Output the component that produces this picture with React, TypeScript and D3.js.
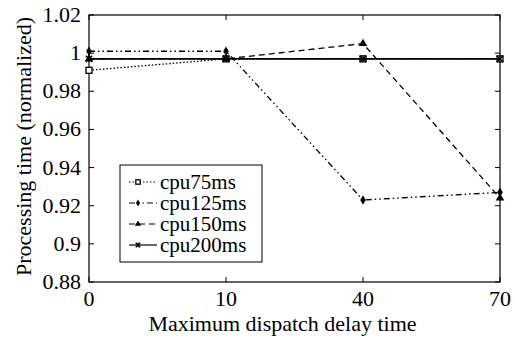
import * as d3 from 'd3';

// x categories (equally spaced on the axis)
const delays = ['0', '10', '40', '70'];
const yTicks = [0.88, 0.9, 0.92, 0.94, 0.96, 0.98, 1, 1.02];

const cpu75 = [0.991, 0.997, 0.997, 0.997];
const cpu125 = [1.001, 1.001, 0.923, 0.927];
const cpu150 = [0.997, 0.997, 1.005, 0.924];
const cpu200 = [0.997, 0.997, 0.997, 0.997];

const seriesNames = ['cpu75ms', 'cpu125ms', 'cpu150ms', 'cpu200ms'];
const allSeries = [cpu75, cpu125, cpu150, cpu200];

const width = 515;
const height = 341;
const margin = { top: 15, right: 15, bottom: 59, left: 89 };
const chartWidth = width - margin.left - margin.right;
const chartHeight = height - margin.top - margin.bottom;
const FONT = 'Liberation Serif';

const dashes = ['1.5,2', '6,3,1.5,3,1.5,3', '6,4', undefined];

function Label(props: { x: number; y: number; size?: number; anchor?: 'start' | 'middle' | 'end'; transform?: string; children: string }) {
  const size = props.size || 22;
  return (
    <text
      x={props.x}
      y={props.y}
      textAnchor={props.anchor || 'start'}
      transform={props.transform}
      fontFamily={FONT}
      fontSize={`${size}px`}
      style={{ fontFamily: `"${FONT}"`, fontSize: `${size}px` }}
    >
      {props.children}
    </text>
  );
}

function Marker({ i, x, y, s }: { i: number; x: number; y: number; s: number }) {
  if (i === 0) {
    return <rect x={x - s} y={y - s} width={2 * s} height={2 * s} fill="#fff" stroke="#000" strokeWidth={1.3} />;
  }
  if (i === 1) {
    return <path d={d3.symbol(d3.symbolDiamond, s * s * 3)() || ''} transform={`translate(${x},${y})`} fill="#000" />;
  }
  if (i === 2) {
    return <path d={d3.symbol(d3.symbolTriangle, s * s * 3.5)() || ''} transform={`translate(${x},${y})`} fill="#000" />;
  }
  return (
    <g>
      <path d={d3.symbol(d3.symbolTimes, s * s * 3)() || ''} transform={`translate(${x},${y})`} fill="none" stroke="#000" strokeWidth={1.5} />
      <line x1={x} x2={x} y1={y - s} y2={y + s} stroke="#000" strokeWidth={1.3} />
    </g>
  );
}

export default function App() {
  const xScale = d3.scalePoint<string>().domain(delays).range([margin.left, margin.left + chartWidth]);
  const yScale = d3.scaleLinear().domain([0.88, 1.02]).range([margin.top + chartHeight, margin.top]);
  const line = d3.line<number>()
    .x((_, j) => xScale(delays[j]) || 0)
    .y(v => yScale(v));
  const x0 = margin.left;
  const x1 = margin.left + chartWidth;
  const yb = margin.top + chartHeight;

  return (
    <svg width={width} height={height} fontFamily={FONT} style={{ position: 'absolute', left: 0, top: 0 }}>
      <rect x={x0} y={margin.top} width={chartWidth} height={chartHeight} fill="none" stroke="#000" strokeWidth={1.2} />

      {yTicks.map(t => (
        <g key={t}>
          <line x1={x0} x2={x0 + 5} y1={yScale(t)} y2={yScale(t)} stroke="#000" />
          <line x1={x1 - 5} x2={x1} y1={yScale(t)} y2={yScale(t)} stroke="#000" />
        </g>
      ))}
      {yTicks.map(t => (
        <Label key={'l' + t} x={x0 - 8} y={yScale(t) + 7} anchor="end">{String(t)}</Label>
      ))}

      {delays.map(d => (
        <g key={d}>
          <line x1={xScale(d)} x2={xScale(d)} y1={yb} y2={yb - 5} stroke="#000" />
          <line x1={xScale(d)} x2={xScale(d)} y1={margin.top} y2={margin.top + 5} stroke="#000" />
        </g>
      ))}
      {delays.map(d => (
        <Label key={'l' + d} x={xScale(d) || 0} y={yb + 24} anchor="middle">{d}</Label>
      ))}

      <Label x={(x0 + x1) / 2 - 12} y={yb + 49} anchor="middle">Maximum dispatch delay time</Label>
      <Label x={-(margin.top + chartHeight / 2) + 2} y={31} anchor="middle" transform="rotate(-90)">
        Processing time (normalized)
      </Label>

      {allSeries.map((vals, i) => (
        <g key={seriesNames[i]}>
          <path d={line(vals) || ''} fill="none" stroke="#000" strokeWidth={i === 3 ? 1.8 : 1.3} strokeDasharray={dashes[i]} />
          {vals.map((v, j) => (
            <Marker key={j} i={i} x={xScale(delays[j]) || 0} y={yScale(v)} s={3} />
          ))}
        </g>
      ))}

      <rect x={120} y={165} width={142} height={97} fill="#fff" stroke="#000" strokeWidth={1} />
      {seriesNames.map((name, i) => {
        const y = 182 + i * 21;
        return (
          <g key={name}>
            <line x1={129} x2={157} y1={y} y2={y} stroke="#000" strokeWidth={1.2} strokeDasharray={dashes[i]} />
            <Marker i={i} x={138} y={y} s={2.2} />
          </g>
        );
      })}
      {seriesNames.map((name, i) => (
        <Label key={'t' + name} x={160} y={182 + i * 21 + 7} size={21}>{name}</Label>
      ))}
    </svg>
  );
}
